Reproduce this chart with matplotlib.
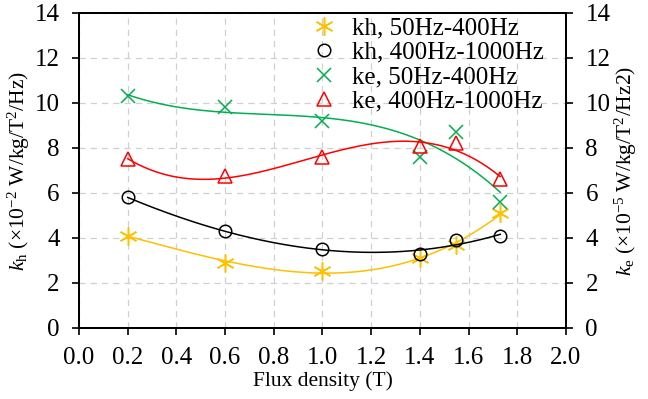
import numpy as np
import matplotlib.pyplot as plt

plt.rcParams['font.family'] = ['Liberation Serif', 'DejaVu Serif']
plt.rcParams['mathtext.fontset'] = 'custom'
plt.rcParams['mathtext.rm'] = 'Liberation Serif'
plt.rcParams['mathtext.it'] = 'Liberation Serif:italic'

# flux density points (T)
B = [0.2, 0.6, 1.0, 1.4, 1.55, 1.73]

kh_low = [4.1, 2.9, 2.55, 3.1, 3.7, 5.1]
kh_high = [5.8, 4.3, 3.5, 3.3, 3.9, 4.1]
ke_low = [10.3, 9.8, 9.2, 7.6, 8.7, 5.6]
ke_high = [7.5, 6.75, 7.6, 8.1, 8.2, 6.6]

labels = ["kh, 50Hz-400Hz", "kh, 400Hz-1000Hz",
          "ke, 50Hz-400Hz", "ke, 400Hz-1000Hz"]

fig = plt.figure(figsize=(6.48, 3.99), dpi=100)
ax = fig.add_axes([0.1219, 0.178, 0.7515, 0.7895])

series = [
    (kh_low, '#FFC000', dict(marker=(6, 2, 0), ms=13, mew=1.1, mfc='none')),
    (kh_high, 'black', dict(marker='o', ms=9, mew=1.1, mfc='none')),
    (ke_low, '#00B050', dict(marker='x', ms=10, mew=1.1)),
    (ke_high, 'red', dict(marker='^', ms=10, mew=1.1, mfc='none')),
]

xs = np.linspace(B[0], B[-1], 200)
for (vals, col, mk), lab in zip(series, labels):
    # cubic trend line through the measured points
    coef = np.polyfit(B, vals, 3)
    ax.plot(xs, np.polyval(coef, xs), color=col, lw=1.1)
    ax.plot(B, vals, ls='none', color=col, mec=col, label=lab, **mk)

ax.set_xlim(0, 2)
ax.set_ylim(0, 14)
ax.set_xticks(np.arange(0, 2.01, 0.2))
ax.set_yticks(np.arange(0, 15, 2))
ax.grid(True, ls=(0, (5, 4)), color='#d0d0d0', lw=0.9)
ax.tick_params(labelsize=18, direction='out', length=5, width=1.2)
ax.tick_params(axis='x', pad=9)
ax.tick_params(axis='y', pad=9)
for s in ax.spines.values():
    s.set_linewidth(1.4)

ax.set_xlabel("Flux density (T)", fontsize=15.5, labelpad=1)
ax.set_ylabel(r"$k_\mathrm{h}$ ($\times$10$^\mathrm{-2}$ W/kg/T$^\mathrm{2}$/Hz)",
              fontsize=15.5, labelpad=2)

ax2 = ax.twinx()
ax2.set_ylim(0, 14)
ax2.set_yticks(np.arange(0, 15, 2))
ax2.tick_params(labelsize=18, direction='out', length=5, width=1.2, pad=9)
ax2.set_ylabel(r"$k_\mathrm{e}$ ($\times$10$^\mathrm{-5}$ W/kg/T$^\mathrm{2}$/Hz2)",
               fontsize=15.5, labelpad=2)
for s in ax2.spines.values():
    s.set_linewidth(1.4)

ax.legend(loc='upper right', bbox_to_anchor=(0.985, 1.035), frameon=False,
          fontsize=18, handletextpad=0.5, labelspacing=0.08,
          borderaxespad=0.2, handlelength=1.2)

fig.savefig('out.png', dpi=100)
